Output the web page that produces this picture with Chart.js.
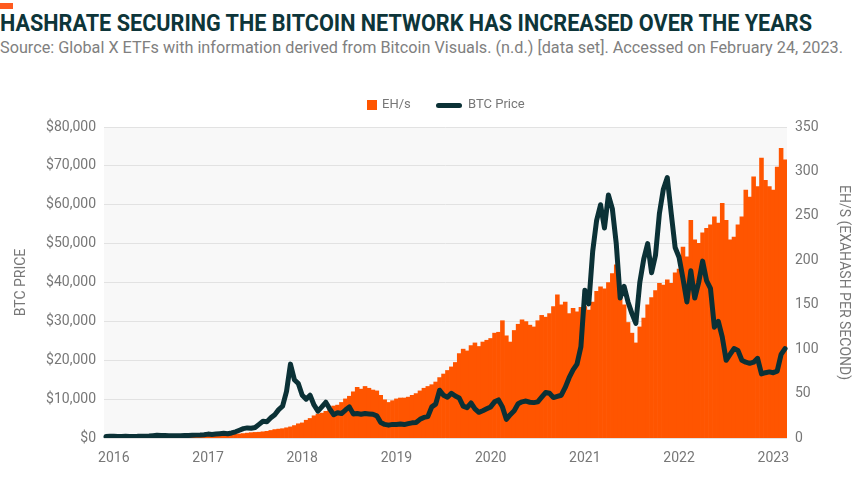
<!DOCTYPE html>
<html>
<head>
<meta charset="utf-8">
<style>
* {
  margin: 0;
  padding: 0;
}
body {
  width: 868px;
  height: 479px;
  overflow: hidden;
  background: #fff;
  position: relative;
  font-family: Roboto, sans-serif;
}
.tab {
  position: absolute;
  left: 0;
  top: 3px;
  width: 13px;
  height: 6px;
  background: #ff5a1f;
}
.title {
  position: absolute;
  left: 0;
  top: 9px;
  font-family: Roboto, sans-serif;
  font-weight: bold;
  font-size: 24px;
  color: #0d3539;
  white-space: nowrap;
  transform-origin: 0 0;
}
.subtitle {
  position: absolute;
  left: 0;
  top: 38px;
  font-family: Roboto, sans-serif;
  font-size: 16.5px;
  color: #808080;
  white-space: nowrap;
  transform-origin: 0 0;
}
.legend {
  position: absolute;
  top: 96px;
  left: 0;
  font-size: 13px;
  color: #777;
}
.legend span {
  position: absolute;
  white-space: nowrap;
}
#chartBox {
  position: absolute;
  left: 0;
  top: 0;
}
</style>
</head>
<body>
<div class="tab"></div>
<div class="title" data-w="812">HASHRATE SECURING THE BITCOIN NETWORK HAS INCREASED OVER THE YEARS</div>
<div class="subtitle" data-w="843">Source: Global X ETFs with information derived from Bitcoin Visuals. (n.d.) [data set]. Accessed on February 24, 2023.</div>
<canvas id="chartBox" width="868" height="479"></canvas>
<div class="legend">
  <span style="left:367px;top:4px;width:10px;height:10px;background:#ff5500;"></span>
  <span style="left:382px;top:0px;">EH/s</span>
  <span style="left:436px;top:7px;width:26px;height:5px;border-radius:3px;background:#0b3136;"></span>
  <span style="left:468px;top:0px;">BTC Price</span>
</div>
<script src="https://cdn.jsdelivr.net/npm/chart.js"></script>
<script>
// years shown on the x axis
const yearTicks = ['2016', '2017', '2018', '2019', '2020', '2021', '2022', '2023'];

// BTC price in USD, two readings per month (1st and 15th), Dec 2015 - Feb 2023
const btcPrice = [
  // 2015 Dec
  380, 430,
  // 2016
  430, 390, 375, 420, 415, 415, 420, 450, 455, 500, 600, 720, 660, 660, 575, 575, 605, 610, 615, 640, 700, 740, 760, 850,
  // 2017
  1000, 900, 1000, 1100, 1200, 1100, 1300, 1600, 2000, 2400, 2600, 2500, 2700, 3500, 4300, 4200, 5200, 6000, 7300, 8200, 12000, 19000, 15000, 14000,
  // 2018
  11000, 10000, 11000, 8500, 6900, 8000, 9200, 7500, 6000, 6500, 6300, 7200, 8000, 6200, 6300, 6100, 6300, 6200, 6100, 5700, 4000, 3500, 3300, 3500,
  // 2019
  3500, 3600, 3450, 3700, 3900, 4000, 4800, 5300, 5500, 8000, 8700, 12300, 11000, 10500, 11500, 10800, 10300, 8200, 7800, 9000, 7500, 6600, 7000, 7500,
  // 2020
  8000, 9300, 9800, 8000, 4800, 6000, 7000, 8800, 9300, 9500, 9200, 9100, 9300, 10500, 11700, 11500, 10400, 10700, 11000, 13000, 15500, 17500, 19000, 23500,
  // 2021
  38000, 34500, 48000, 56000, 60000, 54000, 62500, 59000, 50000, 36000, 39000, 35000, 32000, 29500, 40000, 46000, 50000, 42500, 47000, 57800, 64000, 67000, 57800, 49000,
  // 2022
  46500, 41000, 35000, 43000, 36000, 40000, 45500, 40500, 38500, 28500, 30000, 26000, 20000, 21500, 23000, 22500, 20000, 19500, 19200, 19500, 20500, 16500, 16800, 17000,
  // 2023 Jan - Feb
  16800, 17200, 21500, 23000
];

// network hashrate in EH/s, same dates
const hashRate = [
  // 2015 Dec
  0.7, 0.75,
  // 2016
  0.8, 0.85, 1.0, 1.1, 1.2, 1.3, 1.35, 1.4, 1.5, 1.5, 1.45, 1.5, 1.5, 1.45, 1.55, 1.6, 1.7, 1.8, 1.9, 2.0, 2.1, 2.2, 2.3, 2.4,
  // 2017
  2.8, 3.0, 3.2, 3.3, 3.5, 3.6, 4.0, 4.3, 4.6, 5.0, 5.5, 6.0, 6.3, 6.5, 7.0, 7.5, 8.5, 9.5, 10, 10.5, 11.5, 12.5, 14, 16,
  // 2018
  17, 20, 22, 25, 27, 28, 30, 33, 36, 37, 40, 44, 47, 52, 57, 55, 58, 56, 54, 53, 48, 43, 40, 42,
  // 2019
  44, 45, 45, 46, 48, 50, 53, 56, 58, 60, 63, 68, 72, 76, 80, 85, 95, 100, 98, 104, 107, 103, 108, 110,
  // 2020
  112, 118, 119, 132, 115, 108, 121, 128, 133, 131, 127, 125, 132, 138, 136, 140, 148, 161, 150, 153, 140, 146, 142, 147,
  // 2021
  148, 144, 153, 165, 170, 168, 175, 185, 195, 165, 150, 130, 118, 107, 125, 135, 150, 158, 166, 174, 172, 178, 174, 186,
  // 2022
  190, 215, 204, 245, 223, 219, 231, 236, 240, 249, 242, 264, 245, 223, 226, 240, 249, 279, 271, 294, 283, 315, 290, 283,
  // 2023 Jan - Feb
  279, 305, 326, 313
];

// category dates: 1st and 15th of each month
const dates = [];
for (let y = 2015; y <= 2023; y++) {
  for (let m = 1; m <= 12; m++) {
    if (y === 2015 && m < 12) continue;
    if (y === 2023 && m > 2) break;
    const mm = (m < 10 ? '0' : '') + m;
    dates.push(y + '-' + mm + '-01', y + '-' + mm + '-15');
  }
}

// squeeze heading text to the condensed width of the original
document.querySelectorAll('[data-w]').forEach((el) => {
  const w = el.getBoundingClientRect().width;
  el.style.transform = 'scaleX(' + (el.dataset.w / w) + ')';
});

const tickFont = { family: 'Roboto', size: 14 };
const grey = '#777';

// grey panel behind the plot
const plotBg = {
  id: 'plotBg',
  beforeDraw(chart) {
    const { ctx, chartArea: a } = chart;
    ctx.save();
    ctx.fillStyle = '#f8f8f8';
    ctx.fillRect(a.left, a.top, a.right - a.left, a.bottom - a.top);
    ctx.restore();
  }
};

const data = {
  labels: dates,
  datasets: [{
    type: 'line',
    label: 'BTC Price',
    data: btcPrice,
    yAxisID: 'y',
    borderColor: '#0b3136',
    borderWidth: 5,
    borderJoinStyle: 'round',
    borderCapStyle: 'round',
    pointRadius: 0,
    tension: 0,
    order: 0
  }, {
    type: 'bar',
    label: 'EH/s',
    data: hashRate,
    yAxisID: 'y2',
    backgroundColor: '#ff5500',
    barPercentage: 1,
    categoryPercentage: 1,
    order: 1
  }]
};

const config = {
  data,
  options: {
    responsive: false,
    animation: false,
    layout: { padding: { top: 127 } },
    plugins: {
      legend: { display: false },
      tooltip: { enabled: false }
    },
    scales: {
      x: {
        grid: { display: false, drawTicks: false },
        border: { display: false },
        afterFit: (s) => { s.height = 41; },
        ticks: {
          autoSkip: false,
          maxRotation: 0,
          padding: 12,
          color: grey,
          font: tickFont,
          callback: function (val, idx) {
            const d = dates[idx];
            if (d.slice(5) === '01-01') {
              const yr = d.slice(0, 4);
              return yearTicks.includes(yr) ? yr : null;
            }
            return null;
          }
        }
      },
      y: {
        position: 'left',
        min: 0,
        max: 80000,
        afterFit: (s) => { s.width = 104; },
        grid: { color: '#e2e2e2', drawTicks: false },
        border: { display: false },
        ticks: {
          stepSize: 10000,
          padding: 8,
          color: grey,
          font: tickFont,
          callback: (v) => '$' + v.toLocaleString('en-US')
        },
        title: {
          display: true,
          text: 'BTC PRICE',
          color: grey,
          font: tickFont,
          padding: { top: 13 }
        }
      },
      y2: {
        position: 'right',
        min: 0,
        max: 350,
        afterFit: (s) => { s.width = 81; },
        grid: { display: false, drawTicks: false },
        border: { display: false },
        ticks: {
          stepSize: 50,
          padding: 8,
          color: grey,
          font: tickFont
        },
        title: {
          display: true,
          text: 'EH/S (EXAHASH PER SECOND)',
          color: grey,
          font: tickFont,
          padding: { top: 16 }
        }
      }
    }
  },
  plugins: [plotBg]
};

const myChart = new Chart(document.getElementById('chartBox'), config);
</script>
</body>
</html>
